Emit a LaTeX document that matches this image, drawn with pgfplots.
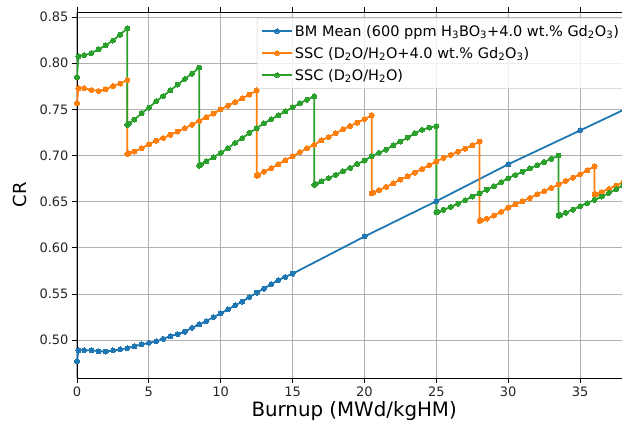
\documentclass[border=0pt]{standalone}
\usepackage{fontspec}
\setmainfont{DejaVu Sans}
\usepackage{pgfplots}
\usepackage{pgfplotstable}
\pgfplotsset{compat=1.18}
\definecolor{c0}{HTML}{1F77B4}
\definecolor{c1}{HTML}{FF7F0E}
\definecolor{c2}{HTML}{2CA02C}
\definecolor{gridc}{HTML}{B0B0B0}

\pgfplotstableread{
x y
0 0.4772
0.1 0.4891
0.5 0.4891
1.0 0.4890
1.5 0.4880
2.0 0.4877
2.5 0.4888
3.0 0.4899
3.5 0.4913
4.0 0.4935
4.5 0.4953
5.0 0.4971
5.5 0.4986
6.0 0.5014
6.5 0.5043
7.0 0.5065
7.5 0.5092
8.0 0.5134
8.5 0.5170
9.0 0.5206
9.5 0.5250
10.0 0.5290
10.5 0.5333
11.0 0.5377
11.5 0.5417
12.0 0.5467
12.5 0.5514
13.0 0.5558
13.5 0.5605
14.0 0.5650
14.5 0.5685
15.0 0.5720
20 0.6123
25 0.6506
30 0.6905
35 0.7272
40 0.7640
}\bm

\pgfplotstableread{
x y
0 0.7570
0.1 0.7730
0.5 0.7730
1.0 0.7710
1.5 0.7700
2.0 0.7717
2.5 0.7753
3.0 0.7780
3.5 0.7818
3.5 0.7018
3.6 0.7025
4.0 0.7043
4.5 0.7080
5.0 0.7123
5.5 0.7160
6.0 0.7190
6.5 0.7225
7.0 0.7260
7.5 0.7297
8.0 0.7335
8.5 0.7375
9.0 0.7415
9.5 0.7455
10.0 0.7500
10.5 0.7540
11.0 0.7580
11.5 0.7620
12.0 0.7660
12.5 0.7705
12.5 0.6782
12.6 0.6790
13.0 0.6826
13.5 0.6860
14.0 0.6905
14.5 0.6950
15.0 0.6993
15.5 0.7036
16.0 0.7080
16.5 0.7116
17.0 0.7163
17.5 0.7200
18.0 0.7243
18.5 0.7283
19.0 0.7320
19.5 0.7355
20.0 0.7395
20.5 0.7435
20.5 0.6590
20.6 0.6597
21.0 0.6625
21.5 0.6660
22.0 0.6700
22.5 0.6740
23.0 0.6775
23.5 0.6815
24.0 0.6855
24.5 0.6895
25.0 0.6935
25.5 0.6975
26.0 0.7007
26.5 0.7043
27.0 0.7075
27.5 0.7110
28.0 0.7152
28.0 0.6293
28.1 0.6298
28.5 0.6315
29.0 0.6350
29.5 0.6390
30.0 0.6435
30.5 0.6470
31.0 0.6505
31.5 0.6540
32.0 0.6580
32.5 0.6615
33.0 0.6650
33.5 0.6685
34.0 0.6725
34.5 0.6760
35.0 0.6795
35.5 0.6840
36.0 0.6885
36.0 0.6578
36.1 0.6582
36.5 0.6605
37.0 0.6640
37.5 0.6675
38.0 0.6712
}\sscgd

\pgfplotstableread{
x y
0 0.7850
0.1 0.8076
0.5 0.8087
1.0 0.8110
1.5 0.8150
2.0 0.8195
2.5 0.8246
3.0 0.8310
3.5 0.8377
3.5 0.7333
3.6 0.7345
4.0 0.7390
4.5 0.7460
5.0 0.7518
5.5 0.7587
6.0 0.7645
6.5 0.7706
7.0 0.7768
7.5 0.7830
8.0 0.7887
8.5 0.7953
8.5 0.6890
8.6 0.6900
9.0 0.6938
9.5 0.6982
10.0 0.7029
10.5 0.7080
11.0 0.7138
11.5 0.7188
12.0 0.7246
12.5 0.7297
13.0 0.7348
13.5 0.7391
14.0 0.7435
14.5 0.7478
15.0 0.7522
15.5 0.7565
16.0 0.7605
16.5 0.7641
16.5 0.6681
16.6 0.6692
17.0 0.6721
17.5 0.6757
18.0 0.6790
18.5 0.6830
19.0 0.6866
19.5 0.6909
20.0 0.6946
20.5 0.6993
21.0 0.7029
21.5 0.7065
22.0 0.7109
22.5 0.7152
23.0 0.7195
23.5 0.7240
24.0 0.7278
24.5 0.7303
25.0 0.7319
25.0 0.6384
25.1 0.6390
25.5 0.6412
26.0 0.6443
26.5 0.6480
27.0 0.6517
27.5 0.6555
28.0 0.6592
28.5 0.6630
29.0 0.6667
29.5 0.6711
30.0 0.6755
30.5 0.6790
31.0 0.6825
31.5 0.6860
32.0 0.6895
32.5 0.6930
33.0 0.6965
33.5 0.7000
33.5 0.6348
33.6 0.6355
34.0 0.6380
34.5 0.6415
35.0 0.6450
35.5 0.6485
36.0 0.6520
36.5 0.6555
37.0 0.6595
37.5 0.6635
38.0 0.6675
}\ssc

\begin{document}
\begin{tikzpicture}
\begin{axis}[
  at={(0pt,0pt)}, anchor=south west,
  scale only axis, width=575pt, height=366pt,
  xmin=0, xmax=40, ymin=0.459, ymax=0.8555,
  xtick={0,5,10,15,20,25,30,35},
  ytick={0.50,0.55,0.60,0.65,0.70,0.75,0.80,0.85},
  yticklabel style={/pgf/number format/.cd, fixed, fixed zerofill, precision=2},
  /pgf/number format/assume math mode=true,
  ticklabel style={font=\fontsize{13}{15}\selectfont, text=black!85},
  tick align=outside, major tick length=5pt,
  tick style={black, line width=0.8pt},
  axis line style={black, line width=0.8pt},
  grid=major, major grid style={gridc, line width=1pt},
  xlabel={Burnup (MWd/kgHM)}, ylabel={CR},
  x label style={font=\fontsize{19.8}{22}\selectfont, at={(axis description cs:0.482,-0.090)}, anchor=center},
  y label style={font=\fontsize{18}{20}\selectfont, at={(axis description cs:-0.099,0.5)}, anchor=center, rotate=0},
  legend cell align=left,
  legend style={at={(axis description cs:0.313,0.984)}, anchor=north west,
    draw=black!20, fill=white, fill opacity=0.8, text opacity=1,
    rounded corners=2pt, font=\fontsize{14.5}{17}\selectfont,
    inner xsep=4pt, inner ysep=5pt, row sep=5.5pt},
  legend image code/.code={\draw[mark repeat=2, mark phase=2] plot coordinates {(0pt,0pt) (15pt,0pt) (30pt,0pt)};},
]
\addplot[c0, line width=1.8pt, mark=*, mark size=2.5pt, mark options={fill=c0, draw=c0, line width=0pt}] table[x=x,y=y] {\bm};
\addlegendentry{BM Mean (600 ppm H\textsubscript{3}BO\textsubscript{3}+4.0 wt.\% Gd\textsubscript{2}O\textsubscript{3})}
\addplot[c1, line width=1.8pt, mark=*, mark size=2.5pt, mark options={fill=c1, draw=c1, line width=0pt}] table[x=x,y=y] {\sscgd};
\addlegendentry{SSC (D\textsubscript{2}O/H\textsubscript{2}O+4.0 wt.\% Gd\textsubscript{2}O\textsubscript{3})}
\addplot[c2, line width=1.8pt, mark=*, mark size=2.5pt, mark options={fill=c2, draw=c2, line width=0pt}] table[x=x,y=y] {\ssc};
\addlegendentry{SSC (D\textsubscript{2}O/H\textsubscript{2}O)}
\end{axis}
\pgfresetboundingbox
\useasboundingbox (-77pt,-43pt) rectangle (545pt,378pt);
\end{tikzpicture}
\end{document}
